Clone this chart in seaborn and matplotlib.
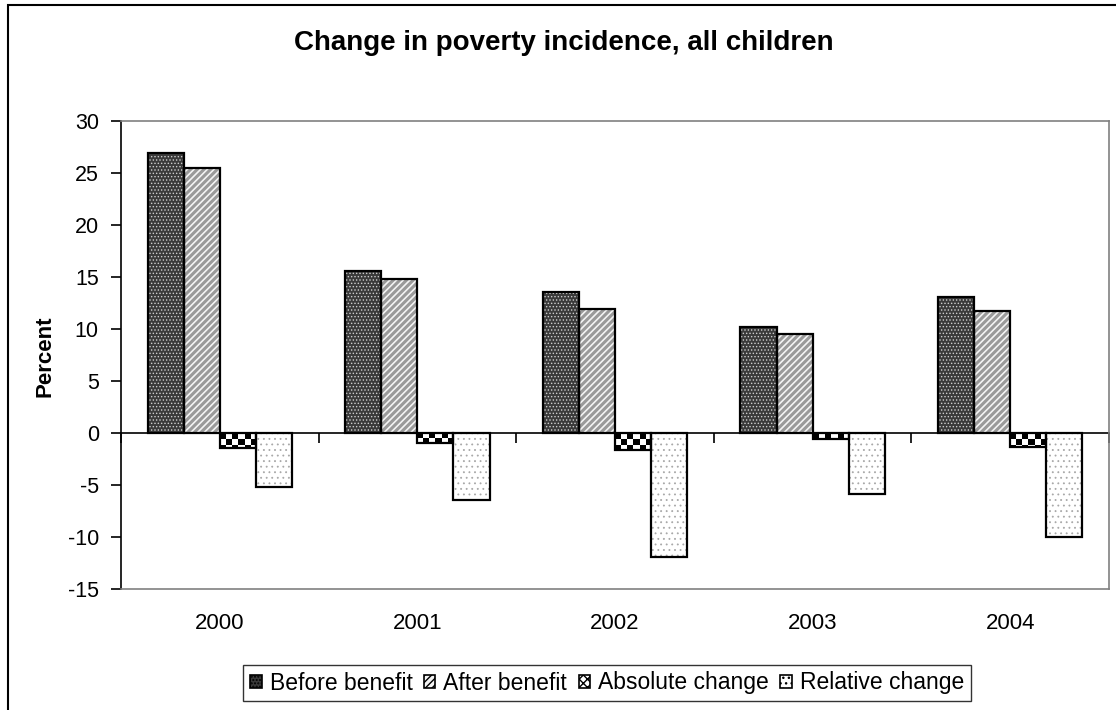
import numpy as np
import pandas as pd
import matplotlib
matplotlib.use("Agg")
import matplotlib.pyplot as plt
from matplotlib.patches import Rectangle, Patch
import seaborn as sns

# ---- data -------------------------------------------------------------
years = ["2000", "2001", "2002", "2003", "2004"]
before_benefit = [26.9, 15.6, 13.6, 10.2, 13.1]
after_benefit = [25.5, 14.8, 11.9, 9.5, 11.7]
absolute_change = [-1.4, -1.0, -1.6, -0.6, -1.3]
relative_change = [-5.2, -6.4, -11.9, -5.9, -10.0]
series_names = ["Before benefit", "After benefit", "Absolute change", "Relative change"]
y_ticks = [-15, -10, -5, 0, 5, 10, 15, 20, 25, 30]

df = pd.DataFrame({
    "year": years * 4,
    "series": np.repeat(series_names, len(years)),
    "value": before_benefit + after_benefit + absolute_change + relative_change,
})

# ---- style ------------------------------------------------------------
sns.set_style("white")
plt.rcParams["font.family"] = ["Liberation Sans", "DejaVu Sans"]
plt.rcParams["text.color"] = "black"
plt.rcParams["axes.labelcolor"] = "black"
plt.rcParams["xtick.color"] = "black"
plt.rcParams["ytick.color"] = "black"
plt.rcParams["hatch.linewidth"] = 1.0

W, H = 1116, 710
fig = plt.figure(figsize=(W / 100, H / 100), dpi=100)
ax_l, ax_r, ax_t, ax_b = 121, 1109, 121, 589
ax = fig.add_axes([ax_l / W, 1 - ax_b / H, (ax_r - ax_l) / W, (ax_b - ax_t) / H])

sns.barplot(data=df, x="year", y="value", hue="series", hue_order=series_names,
            order=years, width=0.73, gap=0, errorbar=None, legend=False, ax=ax)

ax.set_ylim(-15, 30)
ax.set_xlim(-0.5, len(years) - 0.5)

# fill, hatch, hatch colour, hatch width for each series
styles = {
    "Before benefit": ("#3a3a3a", ".....", "#cfcfcf", 0.6),
    "After benefit": ("#f4f4f4", "/////", "#9a9a9a", 2.2),
    "Absolute change": ("#ffffff", None, None, 0),
    "Relative change": ("#ffffff", "...", "#a8a8a8", 0.6),
}

px_x = (len(years)) / (ax_r - ax_l)        # category units per pixel
px_y = 45.0 / (ax_b - ax_t)                # value units per pixel
cell = 6                                   # checker cell size in pixels

for name, cont in zip(series_names, ax.containers):
    face, hatch, hcol, hlw = styles[name]
    for bar in cont:
        x0, y0 = bar.get_x(), bar.get_y()
        w, h = bar.get_width(), bar.get_height()
        bar.set_facecolor(face)
        bar.set_linewidth(0)
        if hatch:
            bar.set_hatch(hatch)
            bar.set_edgecolor(hcol)
            if hasattr(bar, "set_hatch_linewidth"):
                bar.set_hatch_linewidth(hlw)
        else:
            bar.set_edgecolor(face)
        if name == "Absolute change":
            # checkerboard texture clipped to the bar
            cols = int(np.ceil(abs(w) / px_x / cell)) + 1
            rows = int(np.ceil(abs(h) / px_y / cell)) + 1
            board = (np.add.outer(np.arange(rows), np.arange(cols)) % 2).astype(float)
            top = max(y0, y0 + h)
            im = ax.imshow(board, cmap="gray", vmin=0, vmax=1, interpolation="nearest",
                           origin="upper", aspect="auto",
                           extent=(x0, x0 + cols * cell * px_x, top - rows * cell * px_y, top),
                           zorder=bar.get_zorder() + 0.1)
            im.set_clip_path(bar)
        outline = Rectangle((x0, y0), w, h, fill=False, edgecolor="black",
                            linewidth=1.6, zorder=bar.get_zorder() + 0.2)
        ax.add_patch(outline)

ax.set_ylim(-15, 30)
ax.set_xlim(-0.5, len(years) - 0.5)

# ---- axes -------------------------------------------------------------
for side in ["top", "right", "bottom"]:
    ax.spines[side].set_color("#808080")
    ax.spines[side].set_linewidth(1.2)
ax.spines["left"].set_color("black")
ax.spines["left"].set_linewidth(1.2)

ax.set_yticks(y_ticks)
ax.set_yticklabels([str(v) for v in y_ticks])
ax.tick_params(axis="y", direction="out", length=7, width=1.2, color="black",
               labelsize=15.5, labelcolor="black", pad=9, left=True)
ax.tick_params(axis="x", length=0, labelsize=16, labelcolor="black", pad=17)
ax.set_xlabel("")
ax.set_ylabel("")
ax.grid(False)

# category axis crossing at zero, with boundary ticks
zero_frac = 15 / 45
sec = ax.secondary_xaxis(zero_frac)
sec.set_xticks(np.arange(len(years) + 1) - 0.5)
sec.set_xticklabels([])
sec.tick_params(direction="out", length=7, width=1.2, color="black")
sec.spines["bottom"].set_color("black")
sec.spines["bottom"].set_linewidth(1.2)
sec.spines["top"].set_visible(False)

# ---- text -------------------------------------------------------------
fig.text(564 / W, 1 - 43 / H, "Change in poverty incidence, all children",
         ha="center", va="center", fontsize=20, fontweight="bold", color="black")
fig.text(45 / W, 1 - 356 / H, "Percent", rotation=90, ha="center", va="center",
         fontsize=16, fontweight="bold", color="black")

# ---- legend -----------------------------------------------------------
handles = []
for name in series_names:
    face, hatch, hcol, hlw = styles[name]
    if name == "Absolute change":
        handles.append(Patch(facecolor="white", edgecolor="black", hatch="xxxx",
                             linewidth=1.2, label=name))
    else:
        handles.append(Patch(facecolor=face, edgecolor="black", hatch=hatch,
                             linewidth=1.2, label=name))
leg = fig.legend(handles=handles, loc="center", bbox_to_anchor=(607 / W, 1 - 683 / H),
                 ncol=4, fontsize=16.5, frameon=True, fancybox=False, shadow=False,
                 handlelength=0.5, handleheight=0.5, handletextpad=0.35,
                 columnspacing=0.5, borderpad=0.3, borderaxespad=0)
leg.get_frame().set_edgecolor("black")
leg.get_frame().set_linewidth(1.0)

# outer chart frame
fig.add_artist(Rectangle((8 / W, -0.1), 1.2, 1.1 - 5 / H, fill=False,
                         edgecolor="black", linewidth=1.5,
                         transform=fig.transFigure, clip_on=False))

fig.savefig("out.png", dpi=100)
